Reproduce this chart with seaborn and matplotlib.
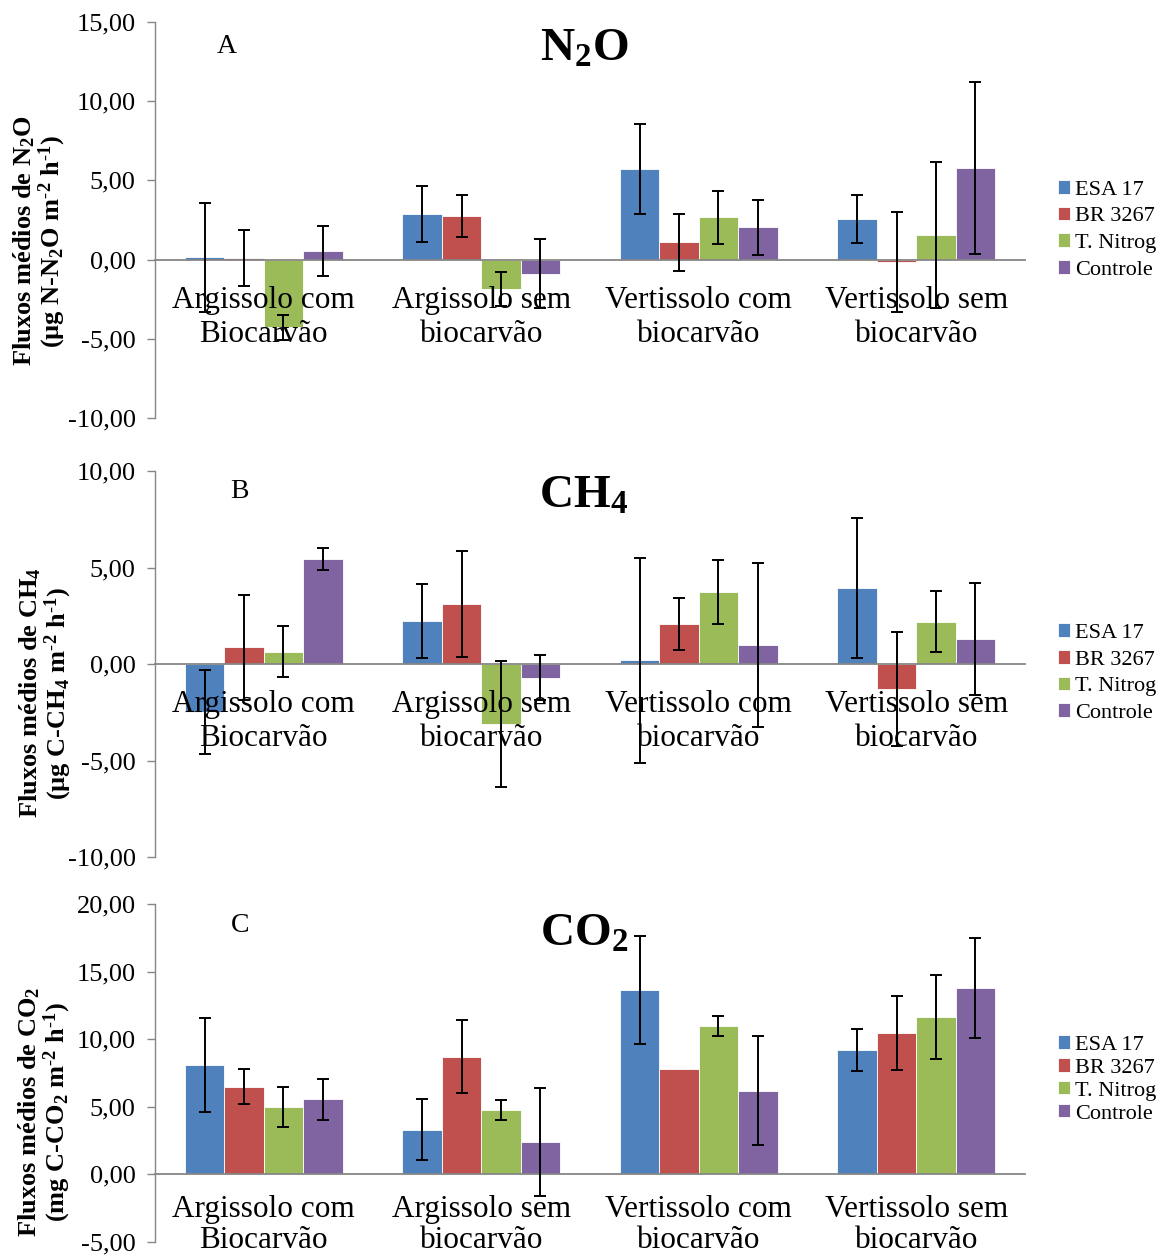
import numpy as np
import pandas as pd
import matplotlib
matplotlib.use("Agg")
import matplotlib.pyplot as plt
import seaborn as sns
from matplotlib.ticker import FuncFormatter, FixedLocator

# ---------------- DATA ----------------
solos = ["Argissolo com\nBiocarvão", "Argissolo sem\nbiocarvão",
         "Vertissolo com\nbiocarvão", "Vertissolo sem\nbiocarvão"]
tratamentos = ["ESA 17", "BR 3267", "T. Nitrog", "Controle"]
cores = ["#4F81BD", "#C0504D", "#9BBB59", "#8064A2"]

# N2O
n2o_esa = [0.15, 2.88, 5.72, 2.55]
n2o_br = [0.10, 2.74, 1.08, -0.15]
n2o_tn = [-4.28, -1.84, 2.66, 1.56]
n2o_ctrl = [0.55, -0.90, 2.03, 5.78]
n2o_err_esa = [3.45, 1.74, 2.85, 1.50]
n2o_err_br = [1.75, 1.33, 1.80, 3.17]
n2o_err_tn = [0.78, 1.08, 1.65, 4.60]
n2o_err_ctrl = [1.60, 2.17, 1.72, 5.45]

# CH4
ch4_esa = [-2.48, 2.22, 0.19, 3.93]
ch4_br = [0.87, 3.10, 2.08, -1.28]
ch4_tn = [0.64, -3.10, 3.71, 2.18]
ch4_ctrl = [5.44, -0.71, 0.99, 1.28]
ch4_err_esa = [2.16, 1.90, 5.30, 3.64]
ch4_err_br = [2.72, 2.73, 1.35, 2.95]
ch4_err_tn = [1.32, 3.26, 1.66, 1.58]
ch4_err_ctrl = [0.57, 1.18, 4.25, 2.90]

# CO2
co2_esa = [8.10, 3.30, 13.67, 9.19]
co2_br = [6.50, 8.72, 7.76, 10.49]
co2_tn = [4.98, 4.78, 10.96, 11.67]
co2_ctrl = [5.57, 2.41, 6.18, 13.79]
co2_err_esa = [3.46, 2.24, 4.00, 1.55]
co2_err_br = [1.28, 2.72, 0.00, 2.74]
co2_err_tn = [1.49, 0.74, 0.75, 3.10]
co2_err_ctrl = [1.52, 4.00, 4.02, 3.67]

# ---------------- STYLE ----------------
sns.set_style("white")
plt.rcParams["font.family"] = ["Liberation Serif", "DejaVu Serif"]
plt.rcParams["mathtext.fontset"] = "custom"
plt.rcParams["mathtext.rm"] = "Liberation Serif"
plt.rcParams["mathtext.bf"] = "Liberation Serif:bold"
plt.rcParams["mathtext.default"] = "regular"
plt.rcParams["text.color"] = "black"
plt.rcParams["xtick.labelcolor"] = "black"
plt.rcParams["ytick.labelcolor"] = "black"

CINZA = "#868686"
W, H = 1161, 1260

fig = plt.figure(figsize=(W / 100, H / 100), dpi=100)


def painel(top, bottom, valores, erros, ylim, letra, titulo, ylabel,
           letra_pos, titulo_pos, ylabel_pos, leg_y, leg_spacing,
           xpad=19, xls=1.22):
    ax = fig.add_axes([155 / W, 1 - bottom / H, 870 / W, (bottom - top) / H])

    df = pd.DataFrame({
        "solo": solos * 4,
        "trat": np.repeat(tratamentos, 4),
        "valor": np.concatenate(valores),
    })
    sns.barplot(data=df, x="solo", y="valor", hue="trat", order=solos,
                hue_order=tratamentos, palette=cores, width=0.725,
                errorbar=None, edgecolor="white", linewidth=0.6,
                saturation=1, ax=ax)
    for p in ax.patches:
        p.set_zorder(1)

    # error bars
    for cont, vals, errs in zip(ax.containers, valores, erros):
        xs = np.array([p.get_x() + p.get_width() / 2 for p in cont])
        vals = np.array(vals)
        errs = np.array(errs)
        m = errs > 0
        ax.errorbar(xs[m], vals[m], yerr=errs[m], fmt="none", ecolor="black",
                    elinewidth=1.4, capsize=4.6, capthick=1.4, zorder=4)

    ax.set_xlim(-0.5, 3.5)
    ax.set_ylim(*ylim)
    ax.set_yticks(np.arange(ylim[0], ylim[1] + 0.1, 5))
    ax.yaxis.set_major_formatter(FuncFormatter(lambda v, p: f"{v:.2f}".replace(".", ",")))
    ax.set_xlabel("")
    ax.set_ylabel("")

    for s in ["top", "right"]:
        ax.spines[s].set_visible(False)
    ax.spines["left"].set_color(CINZA)
    ax.spines["bottom"].set_color(CINZA)
    ax.spines["bottom"].set_position(("data", 0))
    ax.spines["left"].set_linewidth(1.0)
    ax.spines["bottom"].set_linewidth(1.3)
    ax.spines["bottom"].set_zorder(2)
    ax.xaxis.set_zorder(3)

    ax.xaxis.set_minor_locator(FixedLocator([0.5, 1.5, 2.5, 3.5]))
    ax.tick_params(axis="x", which="major", length=0, pad=xpad, labelsize=22.5)
    ax.tick_params(axis="x", which="minor", length=7, width=1, color=CINZA,
                   direction="out")
    ax.tick_params(axis="y", length=6, width=1, color=CINZA, direction="out",
                   pad=8, labelsize=19, left=True)
    for lbl in ax.get_xticklabels():
        lbl.set_linespacing(xls)

    ax.text(letra_pos[0], letra_pos[1], letra, transform=ax.transAxes,
            fontsize=20, ha="center", va="center")
    ax.text(titulo_pos[0], titulo_pos[1], titulo, transform=ax.transAxes,
            fontsize=34, fontweight="bold", ha="center", va="center")
    fig.text(ylabel_pos[0] / W, 1 - ylabel_pos[1] / H, ylabel, rotation=90,
             ha="center", va="center", fontsize=19, fontweight="bold",
             multialignment="center", linespacing=1.0)

    handles, labels = ax.get_legend_handles_labels()
    ax.legend(handles, labels, loc="center left",
              bbox_to_anchor=((1058 - 155) / 870, leg_y), frameon=False,
              fontsize=16, handlelength=0.55, handleheight=0.55,
              handletextpad=0.2, labelspacing=leg_spacing, borderpad=0,
              borderaxespad=0)
    return ax


painel(22, 418,
       [n2o_esa, n2o_br, n2o_tn, n2o_ctrl],
       [n2o_err_esa, n2o_err_br, n2o_err_tn, n2o_err_ctrl],
       (-10, 15), "A", "N$_2$O",
       "Fluxos médios de N$_2$O\n(µg N-N$_2$O m$^{\\text{-}2}$ h$^{\\text{-}1}$)",
       (0.083, 0.937), (0.493, 0.929), (40, 241), 0.475, 0.32)

painel(471, 857,
       [ch4_esa, ch4_br, ch4_tn, ch4_ctrl],
       [ch4_err_esa, ch4_err_br, ch4_err_tn, ch4_err_ctrl],
       (-10, 10), "B", "CH$_4$",
       "Fluxos médios de CH$_4$\n(µg C-CH$_4$ m$^{\\text{-}2}$ h$^{\\text{-}1}$)",
       (0.097, 0.946), (0.493, 0.933), (46, 693), 0.476, 0.32)

painel(904, 1242,
       [co2_esa, co2_br, co2_tn, co2_ctrl],
       [co2_err_esa, co2_err_br, co2_err_tn, co2_err_ctrl],
       (-5, 20), "C", "CO$_2$",
       "Fluxos médios de CO$_2$\n(mg C-CO$_2$ m$^{\\text{-}2}$ h$^{\\text{-}1}$)",
       (0.098, 0.935), (0.493, 0.908), (45, 1112), 0.481, 0.15,
       xpad=15, xls=1.08)

fig.savefig("out.png", dpi=100)
